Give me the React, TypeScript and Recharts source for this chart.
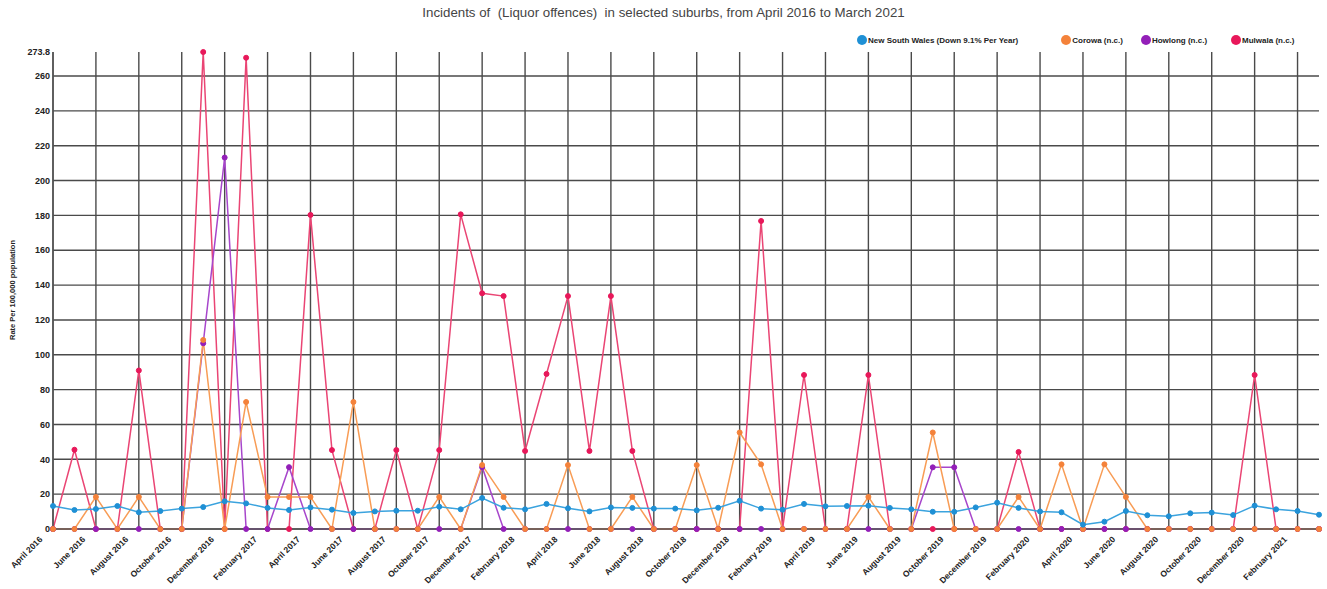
import React from 'react'
import { LineChart, Line, XAxis, YAxis, CartesianGrid } from 'recharts'

const months = [
  'April 2016', 'May 2016', 'June 2016', 'July 2016', 'August 2016', 'September 2016', 'October 2016', 'November 2016', 'December 2016', 'January 2017',
  'February 2017', 'March 2017', 'April 2017', 'May 2017', 'June 2017', 'July 2017', 'August 2017', 'September 2017', 'October 2017', 'November 2017',
  'December 2017', 'January 2018', 'February 2018', 'March 2018', 'April 2018', 'May 2018', 'June 2018', 'July 2018', 'August 2018', 'September 2018',
  'October 2018', 'November 2018', 'December 2018', 'January 2019', 'February 2019', 'March 2019', 'April 2019', 'May 2019', 'June 2019', 'July 2019',
  'August 2019', 'September 2019', 'October 2019', 'November 2019', 'December 2019', 'January 2020', 'February 2020', 'March 2020', 'April 2020', 'May 2020',
  'June 2020', 'July 2020', 'August 2020', 'September 2020', 'October 2020', 'November 2020', 'December 2020', 'January 2021', 'February 2021', 'March 2021',
]

const nsw = [
  13.2, 10.9, 11.5, 13.2, 9.6, 10.3, 11.7, 12.6, 15.9, 14.7,
  12.1, 10.9, 12.4, 11.1, 9.2, 10.1, 10.5, 10.5, 12.8, 11.3,
  17.8, 12.2, 11.3, 14.4, 11.9, 10.1, 12.4, 12.1, 11.7, 11.7,
  10.7, 12.2, 16.2, 11.7, 11.1, 14.4, 13.0, 13.2, 13.4, 12.1,
  11.3, 9.9, 9.9, 12.4, 15.1, 12.1, 10.1, 9.6, 2.5, 4.2,
  10.3, 7.9, 7.3, 9.0, 9.4, 8.0, 13.4, 11.3, 10.3, 8.2,
]

const corowa = [
  0, 0, 18.4, 0, 18.4, 0, 0, 108.5, 0, 72.9,
  18.4, 18.4, 18.4, 0, 72.9, 0, 0, 0, 18.4, 0,
  36.7, 18.4, 0, 0, 36.7, 0, 0, 18.4, 0, 0,
  36.7, 0, 55.4, 37.1, 0, 0, 0, 0, 18.4, 0,
  0, 55.4, 0, 0, 0, 18.4, 0, 37.1, 0, 37.1,
  18.4, 0, 0, 0, 0, 0, 0, 0, 0, 0,
]

const howlong = [
  0, 0, 0, 0, 0, 0, 0, 106.6, 213.2, 0,
  0, 35.5, 0, 0, 0, 0, 0, 0, 0, 0,
  35.5, 0, 0, 0, 0, 0, 0, 0, 0, 0,
  0, 0, 0, 0, 0, 0, 0, 0, 0, 0,
  0, 35.4, 35.4, 0, 0, 0, 0, 0, 0, 0,
  0, 0, 0, 0, 0, 0, 0, 0, 0, 0,
]

const mulwala = [
  0, 45.5, 0, 0, 91, 0, 0, 273.8, 0, 270.5,
  0, 0, 180.3, 45.3, 0, 0, 45.3, 0, 45.3, 180.6,
  135.3, 133.7, 44.8, 89, 133.7, 44.8, 133.7, 44.8, 0, 0,
  0, 0, 0, 176.8, 0, 88.4, 0, 0, 88.4, 0,
  0, 0, 0, 0, 0, 44.2, 0, 0, 0, 0,
  0, 0, 0, 0, 0, 0, 88.4, 0, 0, 0,
]

const yTicks = [0, 20, 40, 60, 80, 100, 120, 140, 160, 180, 200, 220, 240, 260, 273.8]
const gridValues = yTicks.slice(0, -1)

const series = [
  { key: 'mulwala', name: 'Mulwala (n.c.)', line: '#ea4574', dot: '#e8185a' },
  { key: 'howlong', name: 'Howlong (n.c.)', line: '#a746cb', dot: '#931fb8' },
  { key: 'corowa', name: 'Corowa (n.c.)', line: '#f89c55', dot: '#f4823a' },
  { key: 'nsw', name: 'New South Wales (Down 9.1% Per Year)', line: '#3ba3de', dot: '#1f90d5' },
]

const legendOrder = ['nsw', 'corowa', 'howlong', 'mulwala']
const legendGaps = [0, 43, 18, 24]

const data = months.map((month, i) => ({
  month,
  nsw: nsw[i],
  corowa: corowa[i],
  howlong: howlong[i],
  mulwala: mulwala[i],
}))

const font = '"Liberation Sans", Arial, sans-serif'

// eslint-disable-next-line @typescript-eslint/no-explicit-any
const XTick = ({ x, y, payload }: any) => (
  <g transform={`translate(${x - 10},${y + 11})`}>
    <text textAnchor="end" transform="rotate(-45)" fontSize={8.5} fontWeight="bold" fill="#222" fontFamily={font}>
      {payload.value}
    </text>
  </g>
)

const YLabel = () => (
  <text
    x={13}
    y={290}
    transform="rotate(-90 13 290)"
    textAnchor="middle"
    dominantBaseline="middle"
    fontSize={7.5}
    fontWeight="bold"
    fill="#222"
    fontFamily={font}
  >
    Rate Per 100,000 population
  </text>
)

export default function App() {
  return (
    <div style={{ position: 'absolute', left: 0, top: 0, width: 1327, height: 589, background: '#fff', fontFamily: font }}>
      <div style={{ position: 'absolute', top: 5, left: 0, width: 1327, textAlign: 'center', fontSize: 13.3, color: '#444' }}>
        Incidents of &nbsp;(Liquor offences) &nbsp;in selected suburbs, from April 2016 to March 2021
      </div>
      <div style={{ position: 'absolute', top: 35, left: 857, display: 'flex', alignItems: 'center', fontSize: 8, fontWeight: 'bold', color: '#222' }}>
        {legendOrder.map((k, i) => {
          const s = series.find(item => item.key === k)!
          return (
            <div key={k} style={{ display: 'flex', alignItems: 'center', marginLeft: legendGaps[i] }}>
              <span style={{ width: 10, height: 10, borderRadius: 5, background: s.dot, display: 'inline-block', marginRight: 1 }} />
              <span>{s.name}</span>
            </div>
          )
        })}
      </div>
      <LineChart width={1327} height={589} data={data} margin={{ top: 52, right: 8, left: 0, bottom: 0 }}>
        <CartesianGrid
          stroke="#4a4a4a"
          strokeWidth={1.4}
          horizontalValues={gridValues}
          syncWithTicks
        />
        <XAxis
          dataKey="month"
          interval={1}
          height={60}
          tickLine={false}
          tickSize={0}
          tickMargin={0}
          axisLine={{ stroke: '#555', strokeWidth: 1.5 }}
          tick={<XTick />}
        />
        <YAxis
          width={53}
          domain={[0, 273.8]}
          ticks={yTicks}
          tickLine={false}
          tickSize={0}
          tickMargin={3}
          axisLine={{ stroke: '#555', strokeWidth: 1.5 }}
          tick={{ fontSize: 9, fontWeight: 'bold', fill: '#222', fontFamily: font }}
          label={<YLabel />}
        />
        {series.map(s => (
          <Line
            key={s.key}
            dataKey={s.key}
            name={s.name}
            type="linear"
            stroke={s.line}
            strokeWidth={1.5}
            dot={{ r: 2.5, fill: s.dot, stroke: s.dot, strokeWidth: 1 }}
            activeDot={false}
            isAnimationActive={false}
          />
        ))}
      </LineChart>
    </div>
  )
}
